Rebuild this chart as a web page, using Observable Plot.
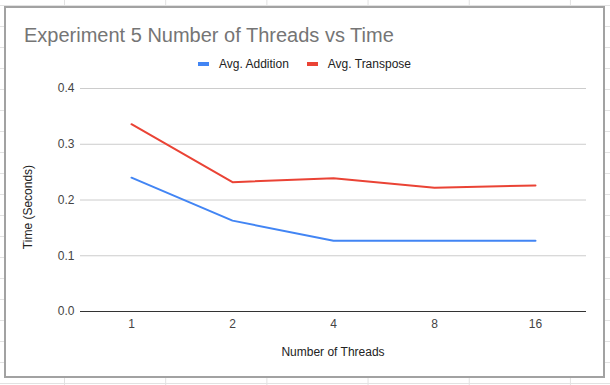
<!DOCTYPE html>
<html>
<head>
<meta charset="utf-8">
<script src="https://cdn.jsdelivr.net/npm/d3@7"></script>
<script src="https://cdn.jsdelivr.net/npm/@observablehq/plot@0.6"></script>
<style>
  html, body { margin: 0; padding: 0; background: #fff; }
  #page {
    position: relative; width: 610px; height: 385px; overflow: hidden;
    background-color: #fff;
    background-image:
      linear-gradient(to right, #e2e2e2 1px, transparent 1px),
      linear-gradient(to bottom, #e2e2e2 1px, transparent 1px);
    background-size: 101.2px 21px, 101.2px 21px;
    background-position: 64px 5px, 64px 5px;
    font-family: Arial, "Liberation Sans", sans-serif;
  }
  #box {
    position: absolute; left: 4px; top: 6px; width: 597px; height: 368px;
    background: #fff; border: 2px solid #a2a2a2;
  }
  #chart { position: absolute; left: 0; top: 0; }
  .txt { position: absolute; white-space: nowrap; }
  #title { left: 24px; top: 25px; font-size: 20px; line-height: 20px; color: #757575; }
  #legend {
    position: absolute; left: 4px; width: 601px; top: 58px; height: 12px;
    display: flex; justify-content: center; align-items: center;
    font-size: 12px; line-height: 12px; color: #222;
  }
  .item { display: flex; align-items: center; margin: 0 9px; }
  .sw { width: 11px; height: 4px; margin-right: 10px; }
  #xtitle { left: 333px; top: 346px; transform: translateX(-50%); font-size: 12px; line-height: 12px; color: #222; }
  #ytitle { left: 28px; top: 207px; transform: translate(-50%, -50%) rotate(-90deg); font-size: 12px; line-height: 12px; color: #222; }
</style>
</head>
<body>
<div id="page">
  <div id="box"></div>
  <div id="chart"></div>
  <div id="title" class="txt"></div>
  <div id="legend"></div>
  <div id="xtitle" class="txt"></div>
  <div id="ytitle" class="txt"></div>
</div>
<script>
const chartTitle = "Experiment 5 Number of Threads vs Time";
const xTitle = "Number of Threads";
const yTitle = "Time (Seconds)";
const threads = ["1", "2", "4", "8", "16"];
const seriesNames = ["Avg. Addition", "Avg. Transpose"];
const seriesColors = ["#4285F4", "#EA4335"];
const addition = [0.240, 0.163, 0.127, 0.127, 0.127];
const transpose = [0.336, 0.232, 0.239, 0.222, 0.226];
const yTicks = [0, 0.1, 0.2, 0.3, 0.4];

const data = [];
threads.forEach((t, i) => {
  data.push({threads: t, value: addition[i], series: seriesNames[0]});
});
threads.forEach((t, i) => {
  data.push({threads: t, value: transpose[i], series: seriesNames[1]});
});

const fmt = d3.format(".1f");

const chart = Plot.plot({
  width: 610,
  height: 385,
  marginLeft: 80,
  marginRight: 24,
  marginTop: 88,
  marginBottom: 74,
  style: {fontFamily: "Arial, 'Liberation Sans', sans-serif", fontSize: "12px", color: "#444", background: "transparent", overflow: "visible"},
  x: {type: "point", domain: threads, padding: 0.5, label: null},
  y: {domain: [0, 0.4], label: null},
  color: {domain: seriesNames, range: seriesColors},
  marks: [
    Plot.gridY(yTicks.filter(d => d !== 0), {stroke: "#cccccc", strokeOpacity: 1}),
    Plot.axisY(yTicks, {tickSize: 0, tickPadding: 6, tickFormat: fmt, label: null, fill: "#444"}),
    Plot.axisX({tickSize: 0, tickPadding: 8, label: null, fill: "#444"}),
    Plot.ruleY([0], {stroke: "#333", strokeWidth: 1}),
    Plot.lineY(data, {x: "threads", y: "value", z: "series", stroke: "series", strokeWidth: 2})
  ]
});
document.getElementById("chart").appendChild(chart);

document.getElementById("title").textContent = chartTitle;
document.getElementById("xtitle").textContent = xTitle;
document.getElementById("ytitle").textContent = yTitle;
const legend = document.getElementById("legend");
seriesNames.forEach((name, i) => {
  const item = document.createElement("div");
  item.className = "item";
  const sw = document.createElement("span");
  sw.className = "sw";
  sw.style.background = seriesColors[i];
  const label = document.createElement("span");
  label.textContent = name;
  item.appendChild(sw);
  item.appendChild(label);
  legend.appendChild(item);
});
</script>
</body>
</html>
